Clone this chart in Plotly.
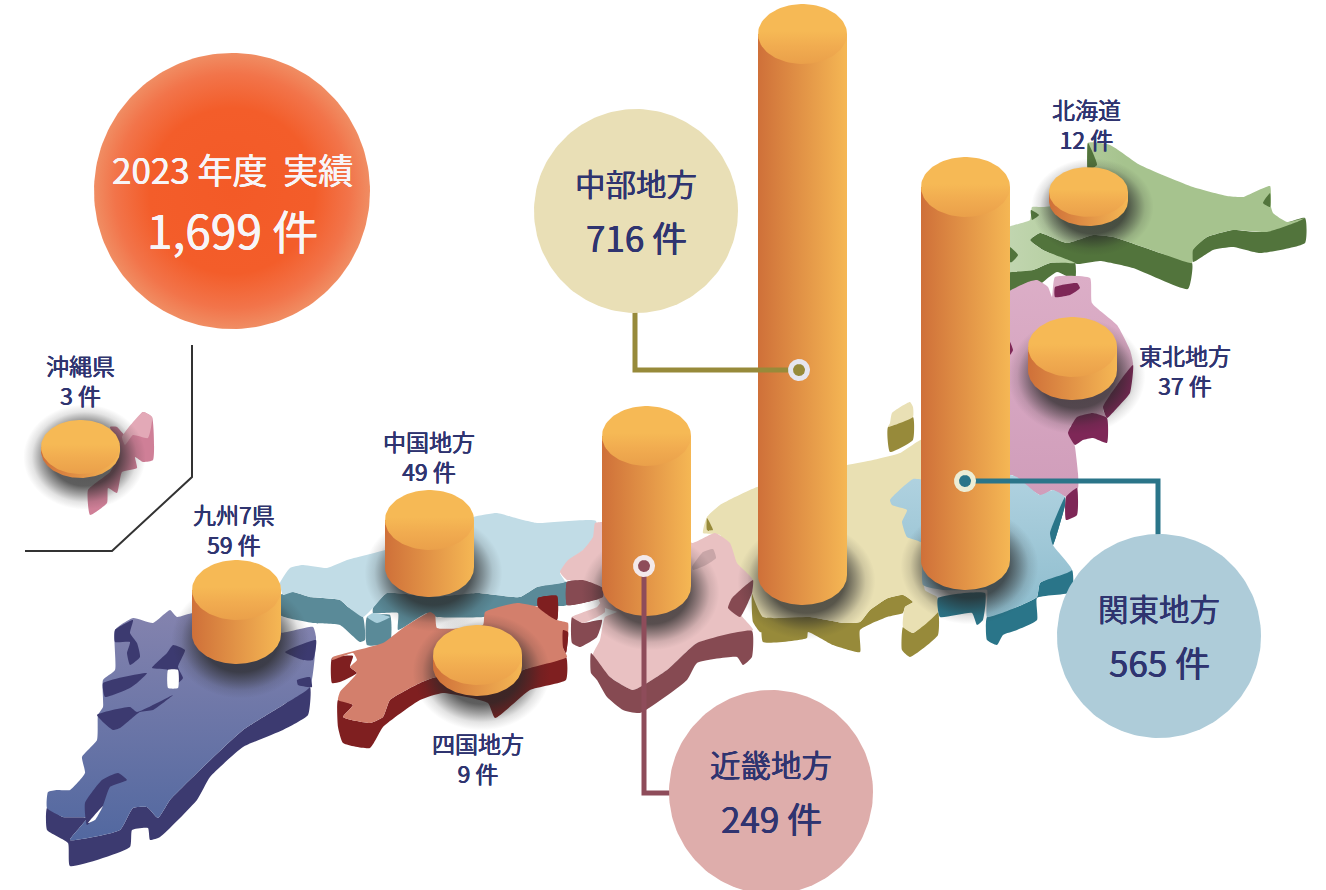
import math
import plotly.graph_objects as go

# ---------- data ----------
total_title = "2023 年度  実績"
total_value = "1,699 件"
regions = ["北海道", "東北地方", "関東地方", "中部地方", "近畿地方", "中国地方", "四国地方", "九州7県", "沖縄県"]
counts = [12, 37, 565, 716, 249, 49, 9, 59, 3]
# drawn height of each cylinder, same order as regions
heights = [9, 23, 373, 541, 150, 47, 11, 44, 4]
base_x = [1088.5, 1072.5, 965.5, 802.5, 646.5, 429.5, 477.5, 236.5, 80.5]
base_y = [201, 370, 560, 575, 586, 567, 666, 634, 451]
radius_x = [39.5, 44.5, 44.5, 44.5, 44.5, 44.5, 44.5, 44.5, 39.5]
radius_y = [25, 30, 30, 30, 30, 30, 30, 30, 27]

hokkaido_top = [(1088,143),(1110,145),(1140,165),(1193,187),(1227,196),(1243,197),(1270,186),(1271,207),(1273,213),(1287,222),(1305,218),(1297,222),(1267,232),(1233,230),(1207,237),(1193,250),(1192,263),(1160,253),(1113,237),(1093,235),(1067,243),(1040,233),(1030,240),(1043,250),(1075,263),(1050,263),(1033,270),(1013,272),(1005,272),(1005,229),(1030,220),(1032,207),(1043,207),(1088,200)]
hokkaido_side = [[(1030,240),(1040,233),(1067,243),(1093,235),(1113,237),(1160,253),(1192,263),(1188,289),(1133,268),(1100,261),(1077,264),(1043,250)],
                 [(1192,250),(1207,237),(1233,230),(1260,232),(1305,218),(1305,243),(1260,253),(1233,247),(1213,250),(1193,262)],
                 [(1005,272),(1033,270),(1050,263),(1075,263),(1075,280),(1057,272),(1033,290),(1013,297),(1005,297)],
                 [(1005,247),(1010,247),(1018,255),(1012,262),(1005,262)],
                 [(1031,210),(1039,215),(1032,220)],
                 [(1270,193),(1263,203),(1270,207)],
                 [(1088,143),(1097,165),(1088,170)]]
tohoku_top = [(1028,282),(1037,280),(1048,287),(1052,297),(1055,277),(1090,278),(1092,303),(1117,325),(1130,350),(1133,365),(1117,385),(1103,410),(1107,418),(1092,413),(1070,427),(1075,447),(1078,473),(1078,488),(1067,497),(1052,490),(1042,496),(1027,487),(1012,475),(1000,475),(1000,298)]
tohoku_side = [[(1068,433),(1077,417),(1093,413),(1107,418),(1107,443),(1093,438),(1083,440),(1075,445)],
               [(1133,365),(1130,393),(1117,408),(1107,418),(1103,407),(1117,385)],
               [(1055,287),(1077,283),(1080,288),(1070,295),(1055,297)],
               [(1066,497),(1077,488),(1077,515),(1066,520)],
               [(1010,342),(1013,350),(1010,355)]]
sado_top = [(890,423),(892,413),(910,402),(913,407),(913,417),(888,427)]
sado_side = [(888,427),(913,417),(913,440),(890,452)]
chubu_top = [(707,517),(720,505),(757,487),(847,465),(873,460),(900,453),(925,438),(925,480),(925,590),(937,597),(938,612),(913,633),(903,627),(905,607),(913,602),(903,595),(888,598),(870,610),(860,622),(843,623),(827,620),(810,617),(763,617),(752,593),(753,583),(730,563),(720,535),(703,533)]
chubu_side = [[(763,617),(810,617),(827,620),(843,623),(860,622),(870,610),(888,598),(903,595),(913,602),(905,607),(903,613),(887,617),(860,630),(860,652),(833,645),(808,632),(807,638),(763,642)],
              [(903,627),(913,633),(938,612),(938,635),(910,657),(902,650)],
              [(752,593),(763,617),(763,632),(760,632),(753,622)],
              [(707,518),(713,530),(707,530)]]
kanto_top = [(890,500),(913,479),(925,480),(1010,475),(1017,477),(1040,495),(1053,490),(1065,497),(1053,533),(1053,545),(1072,570),(1040,583),(1037,597),(1017,607),(987,617),(987,590),(977,590),(943,590),(923,585),(922,543),(907,537),(902,522),(907,510),(892,505)]
kanto_side = [[(1065,497),(1065,505),(1063,513),(1053,545),(1050,533)],
              [(1072,570),(1072,592),(1037,598),(1037,620),(1017,630),(1003,635),(997,645),(987,640),(987,617),(1017,607),(1037,597),(1040,583)],
              [(938,598),(985,593),(983,620),(977,625),(972,613),(940,617)]]
kinki_top = [(560,572),(568,560),(583,550),(593,537),(595,523),(602,522),(680,530),(692,543),(715,533),(730,543),(737,563),(753,580),(740,613),(753,630),(697,643),(667,670),(633,690),(610,677),(592,657),(600,640),(605,617),(617,612),(603,607),(597,597),(590,582),(567,580)]
awaji_top = [(572,617),(597,607),(603,600),(605,612),(583,623)]
kinki_side = [[(567,582),(583,580),(603,588),(603,597),(583,603),(567,605)],
              [(572,617),(583,623),(602,620),(597,637),(580,647),(572,643)],
              [(591,653),(610,677),(633,690),(667,670),(697,643),(752,631),(752,657),(743,665),(737,657),(697,663),(687,680),(640,713),(623,710),(607,697),(597,680),(591,673)],
              [(753,580),(732,598),(728,608),(740,617),(752,593)]]
kinki_lake = [(692,567),(703,552),(713,549),(716,558),(706,565),(693,570)]
chugoku_top = [(280,583),(290,568),(303,565),(327,568),(347,560),(385,550),(473,517),(497,513),(512,517),(537,523),(596,521),(592,543),(570,560),(560,573),(565,582),(537,587),(520,597),(477,593),(433,597),(387,593),(373,608),(363,617),(348,607),(340,600),(310,597),(293,592),(283,595)]
chugoku_side = [[(280,595),(293,592),(310,597),(340,600),(348,607),(363,617),(365,640),(360,642),(340,625),(313,623),(280,615)],
                [(367,617),(390,615),(390,643),(367,645)],
                [(373,608),(387,593),(433,597),(477,593),(520,597),(537,587),(567,582),(567,605),(537,606),(483,617),(437,617),(427,613),(398,630),(398,613),(373,613)]]
chugoku_isle = [(367,617),(373,613),(390,617),(377,623)]
shikoku_top = [(332,660),(353,653),(357,660),(350,667),(357,673),(340,692),(338,700),(353,705),(343,717),(370,723),(383,717),(390,700),(420,683),(437,677),(477,690),(523,670),(567,657),(563,647),(568,633),(568,623),(557,620),(538,607),(517,603),(485,612),(483,625),(437,628),(435,615),(430,612),(403,628),(383,643),(333,657)]
shikoku_side = [[(332,658),(353,656),(350,667),(357,673),(340,682),(332,683)],
                [(338,700),(353,705),(343,717),(370,723),(383,717),(390,700),(420,683),(437,677),(477,690),(523,670),(566,657),(566,680),(530,690),(495,718),(488,703),(443,693),(420,700),(383,727),(370,748),(343,743),(338,727)],
                [(538,598),(557,596),(557,620),(538,607)],
                [(563,630),(568,632),(566,653),(563,647)]]
kyushu_top = [(115,630),(133,618),(153,623),(170,610),(177,617),(193,613),(280,633),(313,627),(316,637),(310,687),(283,705),(243,730),(200,770),(170,800),(158,818),(147,807),(133,808),(120,830),(70,840),(87,818),(63,817),(47,808),(48,792),(57,790),(70,790),(85,773),(82,757),(97,740),(98,715),(103,707),(103,680),(115,670)]
kyushu_side = [(47,808),(63,817),(87,818),(70,840),(120,830),(133,808),(147,807),(158,818),(170,800),(200,770),(243,730),(283,705),(310,687),(308,715),(283,730),(243,747),(210,777),(197,800),(160,837),(150,840),(148,828),(132,830),(130,847),(70,866),(68,843),(47,830)]
kyushu_patches = [[(115,630),(133,620),(130,633),(137,643),(140,657),(130,665),(127,653),(130,642),(115,642)],
                  [(152,668),(167,653),(173,645),(185,650),(178,667),(183,678),(178,683),(168,680),(168,670)],
                  [(103,683),(147,673),(137,683),(130,688),(105,697)],
                  [(113,730),(97,715),(130,707),(137,712),(173,695),(153,710),(140,712),(120,728)],
                  [(285,652),(316,640),(313,660),(303,660)],
                  [(298,685),(312,687),(310,677),(297,680)],
                  [(118,773),(127,780),(110,787),(102,808),(87,825),(85,803),(102,780)]]
kyushu_holes = [[(168,670),(178,670),(178,688),(168,688)],
                [(88,823),(103,806),(95,820)]]
okinawa_main = [(143,412),(152,417),(153,460),(143,462),(135,457),(137,468),(122,472),(117,493),(108,488),(107,503),(90,515),(88,490),(110,472),(120,453),(120,447),(110,427),(117,427),(125,435)]
okinawa_light = [(143,412),(152,417),(148,438),(133,435),(125,445),(122,437)]
bracket_x = [192, 192, 112, 25]
bracket_y = [345, 477, 551, 551]

callout_names = ["中部地方", "関東地方", "近畿地方"]
callout_values = ["716 件", "565 件", "249 件"]
callout_x = [636, 1159, 771]
callout_y = [211, 636, 792]
callout_colors = ["#e9dfb6", "#aeccd9", "#deadab"]
callout_line_x = [[635, 635, 799], [965, 1158, 1158], [644, 644, 672]]
callout_line_y = [[312, 370, 370], [481, 481, 536], [566, 793, 793]]
callout_line_colors = ["#978a3a", "#2a7589", "#8e4c5a"]
dot_rings = ["#e6e6f0", "#ecedd5", "#f3e9ea"]
dot_inner = ["#978a3a", "#2a7589", "#8e4c5a"]

label_idx = [0, 1, 5, 6, 7, 8]
label_x = [1086, 1185, 429, 478, 234, 80]
label_y = [124, 370, 456, 758, 529, 380]
INK = "#2f3470"
FONT = "Noto Sans CJK JP"

fig = go.Figure()


def poly(pts, color=None, grad=None, smooth=0.45):
    xs = [p[0] for p in pts] + [pts[0][0]]
    ys = [p[1] for p in pts] + [pts[0][1]]
    line = dict(width=0, color="rgba(0,0,0,0)")
    if smooth:
        line.update(shape="spline", smoothing=smooth)
    kw = dict(x=xs, y=ys, mode="lines", fill="toself", line=line, hoverinfo="skip", showlegend=False)
    if grad:
        kw["fillgradient"] = grad
    else:
        kw["fillcolor"] = color
    fig.add_trace(go.Scatter(**kw))


def ell(cx, cy, rx, ry, a0=0, a1=360, n=90):
    return [(cx + rx * math.cos(math.radians(a0 + (a1 - a0) * i / n)),
             cy + ry * math.sin(math.radians(a0 + (a1 - a0) * i / n))) for i in range(n + 1)]


def hgrad(c0, c1):
    return dict(type="horizontal", colorscale=[[0, c0], [1, c1]])


def vgrad(top, bottom):
    return dict(type="vertical", colorscale=[[0, bottom], [1, top]])


def rgrad(stops):
    return dict(type="radial", colorscale=stops)


# ---------- map ----------
for p in hokkaido_side:
    poly(p, "#52743c")
poly(hokkaido_top, grad=dict(type="horizontal", colorscale=[[0, "#c2d6b1"], [0.22, "#b4ce9f"], [0.4, "#a6c38e"], [1, "#a6c38e"]]))
for p in hokkaido_side[3:]:
    poly(p, "#52743c")
poly(tohoku_top, grad=vgrad("#dcaec7", "#d09dba"))
for p in tohoku_side:
    poly(p, "#7e2757")
poly(sado_side, "#978a3a")
poly(sado_top, "#e9e0b5")
for p in chubu_side:
    poly(p, "#978a3a")
poly(chubu_top, "#e9e0b3")
poly(chubu_side[3], "#978a3a")
for p in kanto_side:
    poly(p, "#2a7589")
poly(kanto_top, grad=vgrad("#b0d2e0", "#8dbccd"))
poly(kanto_side[0], "#2a7589")
for p in chugoku_side:
    poly(p, "#5a8a98")
poly(chugoku_top, "#c1dce6")
poly(chugoku_isle, "#a9cfdc")
for p in kinki_side[:1]:
    poly(p, "#864a52")
poly(kinki_top, "#e9c1c2")
for p in kinki_side:
    poly(p, "#864a52")
poly(awaji_top, "#e9c1c2")
poly(kinki_lake, "#c9a6a8")
for p in shikoku_side:
    poly(p, "#7f1f20")
poly(shikoku_top, "#d37f6c")
for p in shikoku_side[2:]:
    poly(p, "#7f1f20")
poly(kyushu_side, "#3c3a70")
poly(kyushu_top, grad=vgrad("#8483ae", "#5268a0"))
for p in kyushu_patches:
    poly(p, "#3c3a70")
for p in kyushu_holes:
    poly(p, "#ffffff")
poly(okinawa_main, "#cf7f97")
poly(okinawa_light, "#e3a9b7")

# ---------- shadows ----------
for cx, by, rx, ry in zip(base_x, base_y, radius_x, radius_y):
    poly(ell(cx + 4, by + 6, rx * 1.55, ry * 1.95),
         grad=rgrad([[0, "rgba(40,40,40,0.8)"], [0.55, "rgba(40,40,40,0.75)"], [0.72, "rgba(40,40,40,0.42)"],
                     [0.86, "rgba(40,40,40,0.13)"], [1, "rgba(40,40,40,0)"]]), smooth=0)

# ---------- cylinders ----------
for cx, by, h, rx, ry in zip(base_x, base_y, heights, radius_x, radius_y):
    top = by - h
    body = ell(cx, by, rx, ry, 0, 180) + [(cx - rx, top), (cx + rx, top)]
    poly(body, grad=hgrad("#cf7039", "#f5b754"), smooth=0)
    poly(ell(cx, top, rx, ry),
         grad=dict(type="vertical", colorscale=[[0, "#eaa04a"], [0.3, "#f1ac50"], [0.55, "#f6b955"], [1, "#f6b955"]]),
         smooth=0)

# ---------- big circle ----------
poly(ell(232, 191, 138, 138, n=180),
     grad=rgrad([[0, "#f35a27"], [0.6, "#f35d2a"], [0.85, "#f2744a"], [1, "#f08d63"]]), smooth=0)

# ---------- callouts ----------
for i in range(3):
    fig.add_trace(go.Scatter(x=callout_line_x[i], y=callout_line_y[i], mode="lines",
                             line=dict(color=callout_line_colors[i], width=5), hoverinfo="skip", showlegend=False))
    poly(ell(callout_x[i], callout_y[i], 102, 102, n=180), callout_colors[i], smooth=0)
dots = [(callout_line_x[0][2], callout_line_y[0][2]), (callout_line_x[1][0], callout_line_y[1][0]), (callout_line_x[2][0], callout_line_y[2][0])]
for (dx, dy), ring, inner in zip(dots, dot_rings, dot_inner):
    poly(ell(dx, dy, 11, 11), ring, smooth=0)
    poly(ell(dx, dy, 6, 6), inner, smooth=0)

# ---------- bracket ----------
fig.add_trace(go.Scatter(x=bracket_x, y=bracket_y, mode="lines", line=dict(color="#333333", width=2),
                         hoverinfo="skip", showlegend=False))


def txt(x, y, s, size, color=INK, heavy=0.35):
    fig.add_annotation(x=x, y=y, text=s, showarrow=False, xanchor="center", yanchor="middle",
                       font=dict(family=FONT, size=size, color=color, weight=400,
                                 shadow=f"{heavy}px 0 0 {color}, -{heavy}px 0 0 {color}"))


for i, x, y in zip(label_idx, label_x, label_y):
    txt(x, y, f"{regions[i]}<br>{counts[i]} 件", 23)
for n, v, x, y in zip(callout_names, callout_values, callout_x, callout_y):
    txt(x, y - 28, n, 30.5)
    txt(x, y + 25, v, 35)
txt(232, 168, total_title, 35, "#f7f5f8", 0.2)
txt(232, 229, total_value, 46, "#f7f5f8", 0.3)

fig.update_layout(width=1326, height=890, margin=dict(l=0, r=0, t=0, b=0),
                  paper_bgcolor="white", plot_bgcolor="white", showlegend=False,
                  xaxis=dict(range=[0, 1326], visible=False, fixedrange=True),
                  yaxis=dict(range=[890, 0], visible=False, fixedrange=True))
fig.write_html("out.html", config=dict(displayModeBar=False),
               post_script="document.body.style.margin='0';document.documentElement.style.overflow='hidden';")
